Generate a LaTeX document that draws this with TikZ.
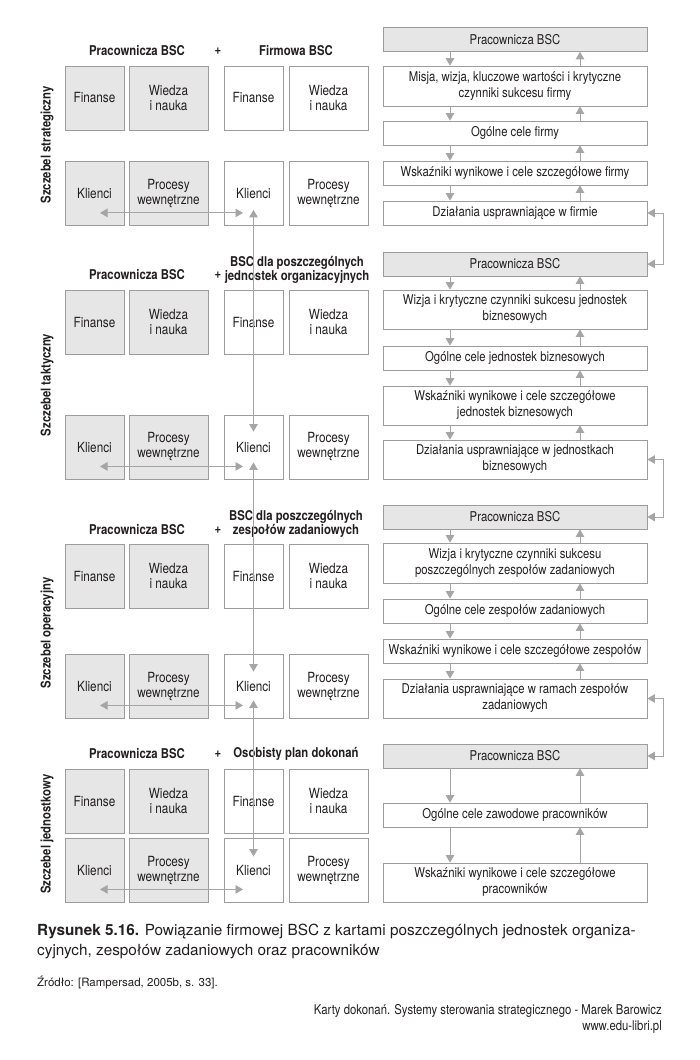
\documentclass[tikz,border=0pt]{standalone}
\usepackage{fontspec}
\setmainfont{TeX Gyre Heros}
\newfontfamily\condfont{TeX Gyre Heros}[FakeStretch=0.84]
\usetikzlibrary{arrows.meta}
\definecolor{cardgray}{HTML}{E6E6E6}
\definecolor{edgegray}{HTML}{9C9C9C}
\definecolor{arrowgray}{HTML}{A5A5A5}
\definecolor{inkcolor}{HTML}{231F20}

\begin{document}
\begin{tikzpicture}[x=1pt,y=-1pt,
    card/.style={draw=edgegray, line width=0.8pt, align=center, inner sep=0pt,
      text=inkcolor, font=\condfont\fontsize{14}{15}\selectfont},
    quad/.style={card, minimum height=64pt},
    goal/.style={card, minimum width=264pt, minimum height=24pt,
      font=\condfont\fontsize{13.5}{16}\selectfont},
    head/.style={text=inkcolor, align=center, font=\condfont\bfseries\fontsize{13.5}{15}\selectfont},
    arr/.style={draw=arrowgray, line width=0.9pt, -{Triangle[length=7.5pt,width=8.5pt]}},
    biarr/.style={draw=arrowgray, line width=0.9pt,
      {Triangle[length=7.5pt,width=8.5pt]}-{Triangle[length=7.5pt,width=8.5pt]}},
  ]
  \useasboundingbox[fill=white] (0,0) rectangle (700,1060);

  % left part: two scorecards per level
  \foreach \lvl/\ty/\by in {s/98/193.5, t/322/447, o/576/686, i/801/870} {
    \node[quad, fill=cardgray, minimum width=59pt] (\lvl gf) at (94.5,\ty) {Finanse};
    \node[quad, fill=cardgray, minimum width=79pt] (\lvl gw) at (168.5,\ty) {Wiedza\\i nauka};
    \node[quad, fill=cardgray, minimum width=59pt] (\lvl gk) at (94.5,\by) {Klienci};
    \node[quad, fill=cardgray, minimum width=79pt] (\lvl gp) at (168.5,\by) {Procesy\\wewnętrzne};
    \node[quad, fill=white, minimum width=59pt] (\lvl wf) at (253.5,\ty) {Finanse};
    \node[quad, fill=white, minimum width=79pt] (\lvl ww) at (328.5,\ty) {Wiedza\\i nauka};
    \node[quad, fill=white, minimum width=59pt] (\lvl wk) at (253.5,\by) {Klienci};
    \node[quad, fill=white, minimum width=79pt] (\lvl wp) at (328.5,\by) {Procesy\\wewnętrzne};
    \draw[biarr] ([shift={(5.5,-13)}]\lvl gk.south) -- ([shift={(-10.5,-13)}]\lvl wk.south);
  }

  % headings
  \node[head] (sh1) at (137,51) {Pracownicza BSC};
  \node[head] (sh2) at (218,51) {+};
  \node[head] (sh3) at (296,51) {Firmowa BSC};
  \node[head] (th1) at (137,275) {Pracownicza BSC};
  \node[head] (th2) at (218,275) {+};
  \node[head, font=\condfont\bfseries\fontsize{13.5}{14.5}\selectfont] (th3) at (297,270) {BSC dla poszczególnych\\jednostek organizacyjnych};
  \node[head] (oh1) at (137,530) {Pracownicza BSC};
  \node[head] (oh2) at (218,530) {+};
  \node[head, font=\condfont\bfseries\fontsize{13.5}{14.5}\selectfont] (oh3) at (296,524) {BSC dla poszczególnych\\zespołów zadaniowych};
  \node[head] (ih1) at (137,754) {Pracownicza BSC};
  \node[head] (ih2) at (218,754) {+};
  \node[head] (ih3) at (296,754) {Osobisty plan dokonań};

  % levels
  \node[head, rotate=90] (sl) at (47,145) {Szczebel strategiczny};
  \node[head, rotate=90] (tl) at (47,385) {Szczebel taktyczny};
  \node[head, rotate=90] (ol) at (47,633) {Szczebel operacyjny};
  \node[head, rotate=90] (il) at (47,834) {Szczebel jednostkowy};

  % customers linked across levels
  \draw[biarr] ([yshift=16pt]swk.south) -- ([yshift=-17pt]twk.north);
  \draw[biarr] ([yshift=17pt]twk.south) -- ([yshift=-18pt]owk.north);
  \draw[biarr] ([yshift=18pt]owk.south) -- ([yshift=-19pt]iwk.north);

  % right part: cascade of goals
  \node[goal, fill=cardgray] (sp) at (515,39.5) {Pracownicza BSC};
  \node[goal, minimum height=40pt] (sm) at (515,86) {Misja, wizja, kluczowe wartości i krytyczne\\czynniki sukcesu firmy};
  \node[goal] (so) at (515,133) {Ogólne cele firmy};
  \node[goal] (sw) at (515,173) {Wskaźniki wynikowe i cele szczegółowe firmy};
  \node[goal] (sd) at (515,213) {Działania usprawniające w firmie};

  \node[goal, fill=cardgray] (tp) at (515,264) {Pracownicza BSC};
  \node[goal, minimum height=39pt] (tm) at (515,309.5) {Wizja i krytyczne czynniki sukcesu jednostek\\biznesowych};
  \node[goal] (to) at (515,358) {Ogólne cele jednostek biznesowych};
  \node[goal, minimum height=39pt] (tw) at (515,405.5) {Wskaźniki wynikowe i cele szczegółowe\\jednostek biznesowych};
  \node[goal, minimum height=39pt] (td) at (515,459.5) {Działania usprawniające w jednostkach\\biznesowych};

  \node[goal, fill=cardgray] (op) at (515,517) {Pracownicza BSC};
  \node[goal, minimum height=40pt] (om) at (515,563) {Wizja i krytyczne czynniki sukcesu\\poszczególnych zespołów zadaniowych};
  \node[goal] (oo) at (515,611) {Ogólne cele zespołów zadaniowych};
  \node[goal] (ow) at (515,651) {Wskaźniki wynikowe i cele szczegółowe zespołów};
  \node[goal, minimum height=39pt] (od) at (515,698.5) {Działania usprawniające w ramach zespołów\\zadaniowych};

  \node[goal, fill=cardgray] (ip) at (515,756) {Pracownicza BSC};
  \node[goal] (io) at (515,815) {Ogólne cele zawodowe pracowników};
  \node[goal, minimum height=39pt] (iw) at (515,882.5) {Wskaźniki wynikowe i cele szczegółowe\\pracowników};

  \coordinate (downx) at (450,0);
  \coordinate (upx) at (580,0);
  \foreach \a/\b in {sp/sm, sm/so, so/sw, sw/sd, tp/tm, tm/to, to/tw, tw/td,
      op/om, om/oo, oo/ow, ow/od, ip/io, io/iw} {
    \draw[arr] (\a.south -| downx) -- (\b.north -| downx);
    \draw[arr] (\b.north -| upx) -- (\a.south -| upx);
  }
  \draw[biarr] (sd.east) -- ++(16,0) |- (tp.east);
  \draw[biarr] (td.east) -- ++(16,0) |- (op.east);
  \draw[biarr] (od.east) -- ++(16,0) |- (ip.east);

  % caption
  \node[anchor=north west, align=left, inner sep=0pt, text=inkcolor,
    font=\fontsize{15.3}{20}\selectfont] (caption) at (37,924)
    {\textbf{Rysunek 5.16.} Powiązanie firmowej BSC z kartami poszczególnych jednostek organiza-\\cyjnych, zespołów zadaniowych oraz pracowników};
  \node[anchor=west, inner sep=0pt, text=inkcolor, font=\fontsize{11.5}{13}\selectfont] (source) at (37,982)
    {Źródło: [Rampersad, 2005b, s. 33].};
  \node[anchor=north east, align=right, inner sep=0pt, text=inkcolor,
    font=\condfont\fontsize{13.5}{16}\selectfont] (footer) at (662,1004)
    {Karty dokonań. Systemy sterowania strategicznego - Marek Barowicz\\www.edu-libri.pl};
\end{tikzpicture}
\end{document}
